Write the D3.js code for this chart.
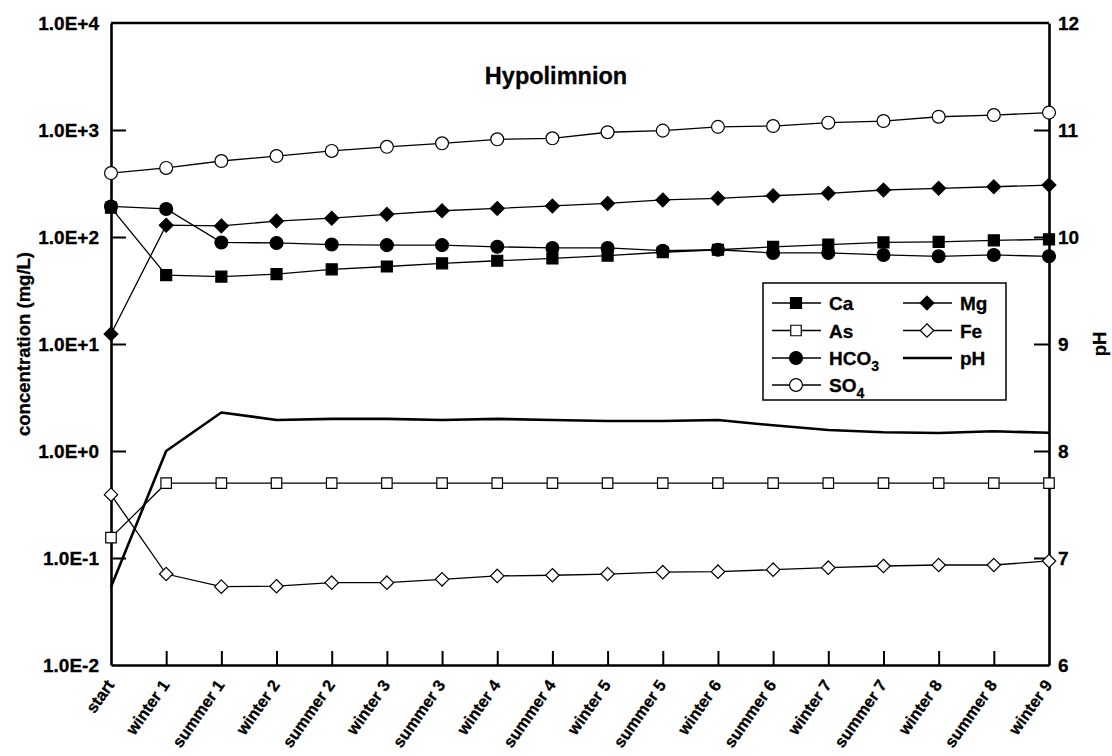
<!DOCTYPE html>
<html>
<head>
<meta charset="utf-8">
<script src="https://cdn.jsdelivr.net/npm/d3@7/dist/d3.min.js"></script>
<style>
  html, body { margin: 0; padding: 0; background: #fff; }
  svg { display: block; font-family: "Liberation Sans", Arial, sans-serif; font-weight: bold; }
  svg text { stroke: #000; stroke-width: 0.3px; fill: #000; }
</style>
</head>
<body>
<svg id="chart" width="1112" height="756"></svg>
<script>
// ---------- data ----------
const categories = ["start", "winter 1", "summer 1", "winter 2", "summer 2", "winter 3", "summer 3",
  "winter 4", "summer 4", "winter 5", "summer 5", "winter 6", "summer 6", "winter 7", "summer 7",
  "winter 8", "summer 8", "winter 9"];

const ca   = [188, 44, 42.6, 45, 49.9, 53, 56.8, 60, 63, 67, 72, 76, 81, 85, 89, 90, 93, 95];
const mg   = [12.4, 129, 127, 141, 150, 163, 176, 185, 195, 206, 222, 230, 243, 256, 275, 285, 295, 306];
const as   = [0.155, 0.5, 0.5, 0.5, 0.5, 0.5, 0.5, 0.5, 0.5, 0.5, 0.5, 0.5, 0.5, 0.5, 0.5, 0.5, 0.5, 0.5];
const fe   = [0.391, 0.0708, 0.054, 0.0545, 0.0588, 0.0588, 0.0632, 0.068, 0.069, 0.0708, 0.0737, 0.0745, 0.0778, 0.0812, 0.0842, 0.086, 0.086, 0.0938];
const hco3 = [193, 183, 89, 88, 85, 84, 84, 81, 79, 79, 74.5, 76, 71, 71, 68, 66, 68, 66];
const so4  = [396, 442, 513, 571, 637, 696, 751, 818, 836, 953, 987, 1070, 1089, 1170, 1213, 1330, 1380, 1453];
const ph   = [6.73, 8.0, 8.36, 8.29, 8.30, 8.30, 8.29, 8.30, 8.29, 8.28, 8.28, 8.29, 8.24, 8.196, 8.175, 8.168, 8.184, 8.17];

const leftTickValues = [0.01, 0.1, 1, 10, 100, 1000, 10000];
const leftTickLabels = ["1.0E-2", "1.0E-1", "1.0E+0", "1.0E+1", "1.0E+2", "1.0E+3", "1.0E+4"];
const rightTickValues = [6, 7, 8, 9, 10, 11, 12];

const chartTitle = "Hypolimnion";
const leftAxisTitle = "concentration (mg/L)";
const rightAxisTitle = "pH";

// ---------- layout ----------
const L = 111, R = 1049, T = 23, B = 665;
const svg = d3.select("#chart");

const x = d3.scalePoint().domain(categories).range([L, R]);
const y = d3.scaleLog().domain([0.01, 10000]).range([B, T]);
const yR = d3.scaleLinear().domain([6, 12]).range([B, T]);

// ---------- axes ----------
const leftAxis = d3.axisLeft(y).tickValues(leftTickValues)
  .tickFormat((d, i) => leftTickLabels[i]).tickSizeInner(-15).tickSizeOuter(0).tickPadding(12);
const gL = svg.append("g").attr("transform", `translate(${L},0)`).call(leftAxis);

const rightAxis = d3.axisRight(yR).tickValues(rightTickValues)
  .tickFormat(d3.format("d")).tickSizeInner(-15).tickSizeOuter(0).tickPadding(9);
const gR = svg.append("g").attr("transform", `translate(${R},0)`).call(rightAxis);

const bottomAxis = d3.axisBottom(x).tickSizeInner(-14).tickSizeOuter(0).tickFormat("");
const gB = svg.append("g").attr("transform", `translate(0,${B})`).call(bottomAxis);

[gL, gR, gB].forEach(g => {
  g.select(".domain").attr("stroke", "#000").attr("stroke-width", 2.6);
  g.selectAll(".tick line").attr("stroke", "#000").attr("stroke-width", 2);
  g.selectAll(".tick text").attr("font-size", 19)
    .attr("font-family", "'Liberation Sans', Arial, sans-serif").attr("font-weight", "bold");
});
gL.selectAll(".tick").filter(d => d === 0.01 || d === 10000).select("line").remove();
gR.selectAll(".tick").filter(d => d === 6 || d === 12).select("line").remove();
gB.selectAll(".tick").filter(d => d === categories[0] || d === categories[categories.length - 1]).select("line").remove();

// top border
svg.append("line").attr("x1", L).attr("x2", R).attr("y1", T).attr("y2", T)
  .attr("stroke", "#000").attr("stroke-width", 2.6);

// category labels
svg.append("g").selectAll("text").data(categories).join("text")
  .attr("transform", d => `translate(${x(d) + 4},${B + 20}) rotate(-55)`)
  .attr("text-anchor", "end")
  .attr("font-size", 16.5)
  .text(d => d);

// axis titles
svg.append("text").attr("transform", `translate(30,${(T + B) / 2}) rotate(-90)`)
  .attr("text-anchor", "middle").attr("font-size", 18.5).text(leftAxisTitle);
svg.append("text").attr("transform", `translate(1106,${(T + B) / 2}) rotate(-90)`)
  .attr("text-anchor", "middle").attr("font-size", 18.5).text(rightAxisTitle);

// chart title
svg.append("text").attr("x", 556).attr("y", 84).attr("text-anchor", "middle")
  .attr("font-size", 23.5).text(chartTitle);

// ---------- series ----------
const squareDiamond = {
  draw(ctx, size) {
    const r = Math.sqrt(size / 2);
    ctx.moveTo(0, -r); ctx.lineTo(r, 0); ctx.lineTo(0, r); ctx.lineTo(-r, 0); ctx.closePath();
  }
};
const sym = { square: d3.symbolSquare, circle: d3.symbolCircle, diamond: squareDiamond };
const series = [
  { name: "Ca", values: ca, shape: "square", fill: "#000", size: 121 },
  { name: "As", values: as, shape: "square", fill: "#fff", size: 110 },
  { name: "HCO3", values: hco3, shape: "circle", fill: "#000", size: 130 },
  { name: "SO4", values: so4, shape: "circle", fill: "#fff", size: 130 },
  { name: "Mg", values: mg, shape: "diamond", fill: "#000", size: 95 },
  { name: "Fe", values: fe, shape: "diamond", fill: "#fff", size: 90 }
];

const line = d3.line().x((d, i) => x(categories[i])).y(d => y(d));
const plot = svg.append("g");

series.forEach(s => {
  plot.append("path").attr("d", line(s.values)).attr("fill", "none")
    .attr("stroke", "#000").attr("stroke-width", 1.3);
});

// pH line
const phLine = d3.line().x((d, i) => x(categories[i])).y(d => yR(d));
plot.append("path").attr("d", phLine(ph)).attr("fill", "none")
  .attr("stroke", "#000").attr("stroke-width", 2.6).attr("stroke-linejoin", "round");

series.forEach(s => {
  plot.append("g").selectAll("path").data(s.values).join("path")
    .attr("transform", (d, i) => `translate(${x(categories[i])},${y(d)})`)
    .attr("d", d3.symbol().type(sym[s.shape]).size(s.size))
    .attr("fill", s.fill).attr("stroke", "#000").attr("stroke-width", 1.2);
});

// ---------- legend ----------
const lg = svg.append("g");
lg.append("rect").attr("x", 763).attr("y", 283).attr("width", 243).attr("height", 117)
  .attr("fill", "#fff").attr("stroke", "#000").attr("stroke-width", 1.5);

const legendItems = [
  { s: series[0], col: 0, row: 0, label: ["Ca"] },
  { s: series[1], col: 0, row: 1, label: ["As"] },
  { s: series[2], col: 0, row: 2, label: ["HCO", "3"] },
  { s: series[3], col: 0, row: 3, label: ["SO", "4"] },
  { s: series[4], col: 1, row: 0, label: ["Mg"] },
  { s: series[5], col: 1, row: 1, label: ["Fe"] },
  { s: null, col: 1, row: 2, label: ["pH"] }
];
const colX = [772, 903];
const rowY = [303, 330.5, 358, 385];
legendItems.forEach(it => {
  const x0 = colX[it.col], yy = rowY[it.row];
  const g = lg.append("g");
  g.append("line").attr("x1", x0).attr("x2", x0 + 49).attr("y1", yy).attr("y2", yy)
    .attr("stroke", "#000").attr("stroke-width", it.s ? 1.3 : 2.6);
  if (it.s) {
    g.append("path").attr("transform", `translate(${x0 + 24},${yy})`)
      .attr("d", d3.symbol().type(sym[it.s.shape]).size(it.s.size))
      .attr("fill", it.s.fill).attr("stroke", "#000").attr("stroke-width", 1.2);
  }
  const t = g.append("text").attr("x", x0 + 57).attr("y", yy + 7).attr("font-size", 19);
  t.append("tspan").text(it.label[0]);
  if (it.label[1]) t.append("tspan").attr("dy", 6).attr("font-size", 14).text(it.label[1]);
});
</script>
</body>
</html>
